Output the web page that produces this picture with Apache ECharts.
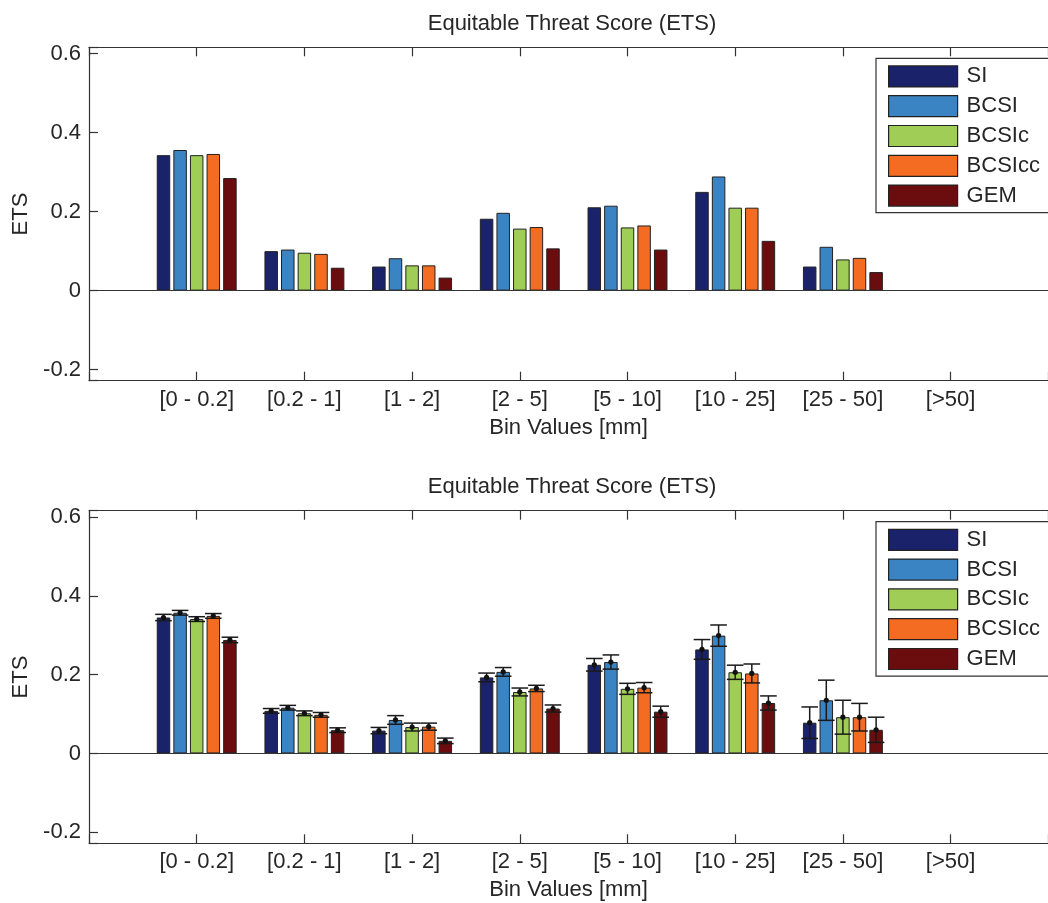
<!DOCTYPE html>
<html>
<head>
<meta charset="utf-8">
<script src="https://cdn.jsdelivr.net/npm/echarts@6/dist/echarts.min.js"></script>
<style>
  html, body { margin: 0; padding: 0; background: #fff; }
  #chart { width: 1048px; height: 903px; }
</style>
</head>
<body>
<div id="chart"></div>
<script>
// ---- data ----
const categories = ['[0 - 0.2]', '[0.2 - 1]', '[1 - 2]', '[2 - 5]', '[5 - 10]', '[10 - 25]', '[25 - 50]', '[>50]'];
const seriesNames = ['SI', 'BCSI', 'BCSIc', 'BCSIcc', 'GEM'];
const yTicks = [-0.2, 0, 0.2, 0.4, 0.6];

// top panel ETS
const topSI     = [0.343, 0.100, 0.061, 0.182, 0.211, 0.250, 0.061, null];
const topBCSI   = [0.356, 0.104, 0.082, 0.197, 0.215, 0.289, 0.111, null];
const topBCSIc  = [0.343, 0.096, 0.064, 0.157, 0.160, 0.210, 0.079, null];
const topBCSIcc = [0.346, 0.093, 0.064, 0.161, 0.165, 0.210, 0.083, null];
const topGEM    = [0.285, 0.058, 0.033, 0.107, 0.104, 0.126, 0.047, null];

// bottom panel ETS (mean) and error half-widths
const botSI     = [0.345, 0.108, 0.058, 0.193, 0.225, 0.264, 0.078, null];
const botBCSI   = [0.357, 0.116, 0.085, 0.207, 0.232, 0.299, 0.135, null];
const botBCSIc  = [0.341, 0.102, 0.067, 0.156, 0.164, 0.206, 0.092, null];
const botBCSIcc = [0.349, 0.098, 0.068, 0.165, 0.167, 0.203, 0.092, null];
const botGEM    = [0.288, 0.059, 0.032, 0.114, 0.106, 0.128, 0.060, null];

const errSI     = [0.008, 0.006, 0.008, 0.011, 0.016, 0.025, 0.040, null];
const errBCSI   = [0.006, 0.006, 0.011, 0.011, 0.018, 0.027, 0.051, null];
const errBCSIc  = [0.006, 0.006, 0.010, 0.010, 0.014, 0.018, 0.043, null];
const errBCSIcc = [0.006, 0.006, 0.009, 0.008, 0.013, 0.024, 0.035, null];
const errGEM    = [0.007, 0.006, 0.007, 0.009, 0.014, 0.018, 0.032, null];

// ---- styles ----
const colors = ['#1a226a', '#3a84c4', '#a0cd55', '#f36c21', '#6b0c0e'];
const FONT = "'Liberation Sans', Arial, Helvetica, sans-serif";
const TXT = '#262626';
const AX = '#333333';
const FS = 22;
const BAR_W = 13.5;
const BAR_GAP = 0.23;

const topVals = [topSI, topBCSI, topBCSIc, topBCSIcc, topGEM];
const botVals = [botSI, botBCSI, botBCSIc, botBCSIcc, botGEM];
const botErrs = [errSI, errBCSI, errBCSIc, errBCSIcc, errGEM];

// x positions 1..8 on an axis running from 0 (MATLAB xlim [0 9], right part cropped)
const GRID_LEFT = 89, GRID_W = 959, UNIT = 107.7;
const xMax = GRID_W / UNIT;
const toPairs = arr => arr.map((v, k) => [k + 1, v]).filter(p => p[1] !== null);

const yMin = -0.228, yMax = 0.616;
function yLabel(v) {
  for (const t of yTicks) if (Math.abs(v - t) < 1e-6) return String(t);
  return '';
}
function xLabel(v) {
  const k = Math.round(v);
  if (Math.abs(v - k) > 1e-6 || k < 1 || k > categories.length) return '';
  return categories[k - 1];
}

function makeXAxis(gridIndex, pos, name) {
  const bottom = pos === 'bottom';
  return {
    type: 'value', gridIndex: gridIndex, position: pos, min: 0, max: xMax, interval: 1,
    axisLine: { show: true, onZero: false, lineStyle: { color: AX, width: 1.2 } },
    axisTick: { show: true, inside: true, length: 9, lineStyle: { color: AX, width: 1.2 } },
    axisLabel: { show: bottom, formatter: xLabel, showMinLabel: true, showMaxLabel: true,
      margin: 8, color: TXT, fontSize: FS, fontFamily: FONT, hideOverlap: false },
    splitLine: { show: false },
    name: name, nameLocation: 'middle', nameGap: bottom ? 36 : 12,
    nameTextStyle: { color: TXT, fontSize: FS, fontFamily: FONT }
  };
}
function makeYAxis(gridIndex) {
  return {
    type: 'value', gridIndex: gridIndex, min: yMin, max: yMax, splitNumber: 4,
    axisLine: { show: true, lineStyle: { color: AX, width: 1.2 } },
    axisTick: { show: true, inside: true, length: 9, lineStyle: { color: AX, width: 1.2 } },
    axisLabel: { formatter: yLabel, margin: 8, color: TXT, fontSize: FS, fontFamily: FONT },
    splitLine: { show: false },
    name: 'ETS', nameLocation: 'middle', nameGap: 57,
    nameTextStyle: { color: TXT, fontSize: FS, fontFamily: FONT }
  };
}
function makeLegend(top) {
  return {
    data: seriesNames, orient: 'vertical', left: 876, top: top,
    padding: [7, 120, 6, 12], itemWidth: 69, itemHeight: 21, itemGap: 7.6,
    borderColor: AX, borderWidth: 1.2, backgroundColor: '#fff',
    icon: 'rect', selectedMode: false,
    itemStyle: { borderColor: '#222', borderWidth: 1.2 },
    textStyle: { color: TXT, fontSize: FS, fontFamily: FONT, lineHeight: 21, padding: [0, 0, 0, 4] }
  };
}

const series = [];
function barSeries(name, i, vals, xIdx, yIdx, withBase) {
  const s = {
    type: 'bar', name: name, xAxisIndex: xIdx, yAxisIndex: yIdx, data: toPairs(vals),
    barWidth: BAR_W, barGap: (BAR_GAP * 100) + '%',
    itemStyle: { color: colors[i], borderColor: '#222', borderWidth: 1 },
    emphasis: { disabled: true }, animation: false, z: 2
  };
  if (withBase) {
    s.markLine = {
      silent: true, symbol: ['none', 'none'], animation: false,
      label: { show: false },
      lineStyle: { color: AX, width: 1.2, type: 'solid' },
      data: [{ yAxis: 0 }]
    };
  }
  return s;
}
seriesNames.forEach((n, i) => series.push(barSeries(n, i, topVals[i], 0, 0, i === 0)));
seriesNames.forEach((n, i) => series.push(barSeries(n, i, botVals[i], 2, 1, i === 0)));

// error bars for the bottom panel
seriesNames.forEach((n, i) => {
  const data = [];
  botVals[i].forEach((v, k) => { if (v !== null) data.push([k + 1, v, botErrs[i][k]]); });
  series.push({
    type: 'custom', name: n + ' err', xAxisIndex: 2, yAxisIndex: 1, z: 5,
    animation: false, silent: true, data: data,
    renderItem: function (params, api) {
      const xi = api.value(0), m = api.value(1), e = api.value(2);
      const pitch = BAR_W * (1 + BAR_GAP);
      const off = (i - 2) * pitch;
      const c = api.coord([xi, m]);
      const hi = api.coord([xi, m + e]);
      const lo = api.coord([xi, m - e]);
      const x = c[0] + off;
      const cw = 8.3;
      const st = { stroke: '#1a1a1a', lineWidth: 1.5 };
      return {
        type: 'group',
        children: [
          { type: 'line', shape: { x1: x, y1: lo[1], x2: x, y2: hi[1] }, style: st },
          { type: 'line', shape: { x1: x - cw, y1: hi[1], x2: x + cw, y2: hi[1] }, style: st },
          { type: 'line', shape: { x1: x - cw, y1: lo[1], x2: x + cw, y2: lo[1] }, style: st },
          { type: 'circle', shape: { cx: x, cy: c[1], r: 2.6 }, style: { fill: '#111' } }
        ]
      };
    }
  });
});

const chart = echarts.init(document.getElementById('chart'), null, { renderer: 'canvas' });
chart.setOption({
  backgroundColor: '#ffffff',
  animation: false,
  textStyle: { fontFamily: FONT },
  grid: [
    { left: GRID_LEFT, width: GRID_W, top: 47.3, height: 333.4, containLabel: false, outerBoundsMode: 'none' },
    { left: GRID_LEFT, width: GRID_W, top: 510.7, height: 332.6, containLabel: false, outerBoundsMode: 'none' }
  ],
  xAxis: [
    makeXAxis(0, 'bottom', 'Bin Values [mm]'),
    makeXAxis(0, 'top', ''),
    makeXAxis(1, 'bottom', 'Bin Values [mm]'),
    makeXAxis(1, 'top', '')
  ],
  yAxis: [makeYAxis(0), makeYAxis(1)],
  title: [
    { text: 'Equitable Threat Score (ETS)', left: 567, top: 8, textAlign: 'center',
      textStyle: { color: TXT, fontSize: FS, fontWeight: 'normal', fontFamily: FONT } },
    { text: 'Equitable Threat Score (ETS)', left: 567, top: 471.4, textAlign: 'center',
      textStyle: { color: TXT, fontSize: FS, fontWeight: 'normal', fontFamily: FONT } }
  ],
  legend: [makeLegend(58.3), makeLegend(521.7)],
  series: series
});
</script>
</body>
</html>
